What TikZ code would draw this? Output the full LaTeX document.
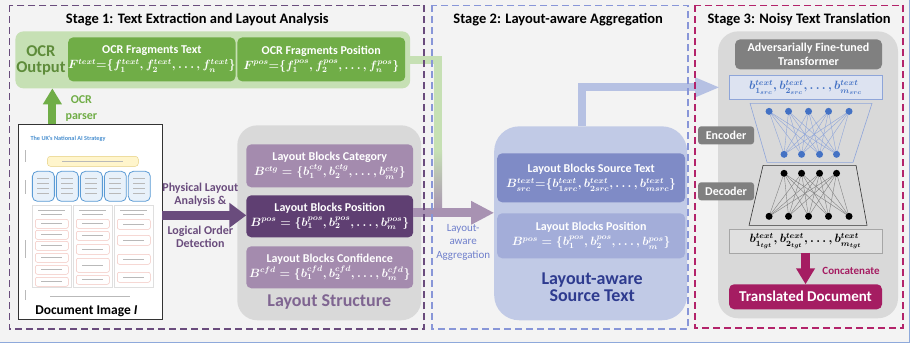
\documentclass[tikz,border=0pt]{standalone}
\usepackage{fontspec}
\setmainfont{Carlito}
\usepackage{amsmath}
\usetikzlibrary{arrows.meta}

\definecolor{bggray}{HTML}{F3F3F3}
\definecolor{frameblue}{HTML}{8EA9DB}
\definecolor{stageone}{HTML}{6A4C7D}
\definecolor{stagetwo}{HTML}{8896D8}
\definecolor{stagethree}{HTML}{B3236A}
\definecolor{ocrlight}{HTML}{C6E0B4}
\definecolor{ocrdark}{HTML}{70AD47}
\definecolor{ocrtext}{HTML}{5E8C3A}
\definecolor{panelgray}{HTML}{D9D9D9}
\definecolor{mauve}{HTML}{A48BAE}
\definecolor{mauvelight}{HTML}{A892B2}
\definecolor{plum}{HTML}{5F3F72}
\definecolor{lstext}{HTML}{7F6591}
\definecolor{srcpanel}{HTML}{C1CAE6}
\definecolor{srcdark}{HTML}{7F8BC6}
\definecolor{srclight}{HTML}{A3ADD9}
\definecolor{srctext}{HTML}{2E3B8F}
\definecolor{aggtext}{HTML}{7080CC}
\definecolor{bandblue}{HTML}{B6C1E3}
\definecolor{modelgray}{HTML}{808080}
\definecolor{encblue}{HTML}{4472C4}
\definecolor{encline}{HTML}{8EA5D9}
\definecolor{infill}{HTML}{DDE3F1}
\definecolor{outfill}{HTML}{E0E0E0}
\definecolor{berry}{HTML}{A51D62}
\definecolor{docblue}{HTML}{4A90D0}
\definecolor{docyellow}{HTML}{FFF5CC}
\definecolor{docyellowline}{HTML}{E5CF7F}
\definecolor{docbluefill}{HTML}{E8F1FA}
\definecolor{docblueline}{HTML}{5B9BD5}
\definecolor{pinkline}{HTML}{F2C4BE}

\begin{document}
\begin{tikzpicture}[x=1pt,y=-1pt]

  %Styles for picture
  \tikzset
  {
  stagebox/.style={line width=1.6pt, dash pattern=on 7pt off 4pt},
  title/.style={font=\fontsize{14.5}{16}\selectfont\bfseries},
  panel/.style={rounded corners=20pt, inner sep=0pt, outer sep=0pt, fill=panelgray},
  block/.style={rounded corners=5pt, inner sep=0pt, outer sep=0pt, text=white, align=center, font=\fontsize{12}{15}\selectfont\bfseries\boldmath},
  biglabel/.style={align=center, font=\fontsize{18}{17}\selectfont\bfseries},
  smalllabel/.style={align=center, font=\fontsize{12}{13}\selectfont\bfseries},
  band/.style={line width=8pt},
  encnode/.style={circle, inner sep=0pt, outer sep=0pt, minimum width=7pt, fill=encblue},
  decnode/.style={circle, inner sep=0pt, outer sep=0pt, minimum width=7pt, fill=black},
  tagbox/.style={rounded corners=3pt, inner sep=0pt, outer sep=0pt, fill=modelgray, text=white, align=center, font=\fontsize{12}{14}\selectfont\bfseries},
  seqbox/.style={inner sep=0pt, outer sep=0pt, minimum width=153pt, minimum height=24pt, font=\fontsize{12}{14}\selectfont\boldmath},
  docline/.style={draw=gray!55, line width=0.7pt},
  pinkbox/.style={draw=pinkline, fill=white, line width=0.5pt, rounded corners=2pt},
  }

  % Background
  \fill[bggray] (0,0) rectangle (909,342);
  \draw[frameblue, line width=0.8pt] (909,0) -- (909,342) -- (0,342);

  % Stage 1 nodes
  \node[panel, rounded corners=8pt, fill=ocrlight, minimum width=395pt, minimum height=57pt] (ocr) at (212.5,59.5) {};
  \node[biglabel, text=ocrtext, font=\fontsize{16.5}{16}\selectfont\bfseries] (ocrname) at (40.5,60) {OCR\\Output};
  \node[block, fill=ocrdark, minimum width=161pt, minimum height=44pt] (ftext) at (151.5,59) {OCR Fragments Text\\$F^{text}{=}\{f_1^{text},f_2^{text},\dots,f_n^{text}\}$};
  \node[block, fill=ocrdark, minimum width=168pt, minimum height=44pt] (fpos) at (321,59) {OCR Fragments Position\\$F^{pos}{=}\{f_1^{pos},f_2^{pos},\dots,f_n^{pos}\}$};

  \node[draw=black!80, fill=white, line width=0.6pt, minimum width=144pt, minimum height=195pt, inner sep=0pt] (doc) at (90,221.5) {};
  \node[font=\fontsize{6.2}{7}\selectfont\bfseries, text=docblue, anchor=west, inner sep=0pt] (doctitle) at (30,138) {The UK's National AI Strategy};
  \node[font=\fontsize{13.5}{16}\selectfont\bfseries] (docname) at (86,311) {Document Image \textit{I}};

  % Document mock-up
  \draw[draw=docyellowline, fill=docyellow, rounded corners=3pt] (47,156) rectangle (138,166);
  \draw[docline] (62,161) -- (123,161);
  \foreach \x in {32,56,80,104,128}
  {
    \draw[draw=docblueline, fill=docbluefill, line width=0.8pt, rounded corners=5pt] (\x,171) rectangle ++(22,30);
    \foreach \y in {178,183,188,193} \draw[docline] (\x+5,\y) -- ++(12,0);
  }
  \foreach \x in {32,73,114}
  {
    \draw[draw=gray!25, line width=0.5pt] (\x,205) rectangle ++(39,82);
    \draw[docline] (\x+6,210) -- ++(27,0);
    \draw[docline] (\x+9,214) -- ++(21,0);
  }
  \foreach \y in {219,230,241,253,265,277}
  {
    \draw[pinkbox] (35,\y) rectangle ++(33,9);
    \draw[docline] (41,\y+4.5) -- ++(21,0);
  }
  \foreach \y/\h in {219/9,231/9,244/10,258/14,275/9}
  {
    \draw[pinkbox] (76,\y) rectangle ++(33,\h);
    \draw[docline] (82,\y+\h/2) -- ++(21,0);
  }
  \foreach \y in {219,235,254,272}
  {
    \draw[pinkbox] (117,\y) rectangle ++(33,10);
    \draw[docline] (123,\y+5) -- ++(21,0);
  }
  \draw[docline] (50,296) -- (130,296);
  \foreach \y/\l in {150/12,180/14,240/18,290/10} \draw[docline] (25,\y) -- ++(0,\l);

  \node[panel, minimum width=184pt, minimum height=195pt] (lstruct) at (329,222.5) {};
  \node[block, fill=mauve, minimum width=167pt, minimum height=43pt] (lctg) at (329.5,165.5) {Layout Blocks Category\\$B^{ctg}=\{b_1^{ctg},b_2^{ctg},\dots,b_m^{ctg}\}$};
  \node[block, fill=plum, minimum width=167pt, minimum height=42pt] (lpos) at (329.5,216) {Layout Blocks Position\\$B^{pos}=\{b_1^{pos},b_2^{pos},\dots,b_m^{pos}\}$};
  \node[block, fill=mauve, minimum width=167pt, minimum height=42pt] (lcfd) at (329.5,267) {Layout Blocks Confidence\\$B^{cfd}=\{b_1^{cfd},b_2^{cfd},\dots,b_m^{cfd}\}$};
  \node[biglabel, text=lstext] (lsname) at (329,302) {Layout Structure};

  \node[smalllabel, text=ocrdark, font=\fontsize{12}{15.5}\selectfont\bfseries] (parserlbl) at (81,108) {OCR\\parser};
  \node[smalllabel, text=stageone] (physlbl) at (200,194) {Physical Layout\\Analysis \&};
  \node[smalllabel, text=stageone] (logiclbl) at (200,237) {Logical Order\\Detection};

  % Stage 2 nodes
  \node[panel, rounded corners=25pt, fill=srcpanel, minimum width=193pt, minimum height=194pt] (src) at (590.5,223) {};
  \node[block, fill=srcdark, minimum width=188pt, minimum height=49pt] (stext) at (591,177.5) {Layout Blocks Source Text\\$B_{src}^{text}{=}\{b_{1src}^{text},b_{2src}^{text},\dots,b_{msrc}^{text}\}$};
  \node[block, fill=srclight, minimum width=188pt, minimum height=45pt] (spos) at (591,235.5) {Layout Blocks Position\\$B^{pos}=\{b_1^{pos},b_2^{pos},\dots,b_m^{pos}\}$};
  \node[biglabel, text=srctext] (srcname) at (592,287) {Layout-aware\\Source Text};
  \node[align=center, text=aggtext, font=\fontsize{11}{13.5}\selectfont] (agglbl) at (463,242) {Layout-\\aware\\Aggregation};

  % Stage 3 nodes
  \node[panel, minimum width=180pt, minimum height=287pt] (nmt) at (808,174.5) {};
  \node[tagbox, rounded corners=5pt, minimum width=147pt, minimum height=30pt, font=\fontsize{12}{14}\selectfont\bfseries] (model) at (808.5,54) {Adversarially Fine-tuned\\Transformer};
  \node[seqbox, draw=encline, fill=infill, text=encblue] (inbox) at (805.5,87) {$b_{1_{src}}^{text},b_{2_{src}}^{text},\dots,b_{m_{src}}^{text}$};
  \node[seqbox, draw=gray!70, fill=outfill, text=black] (outbox) at (805.5,240.5) {$b_{1_{tgt}}^{text},b_{2_{tgt}}^{text},\dots,b_{m_{tgt}}^{text}$};
  \node[tagbox, minimum width=56pt, minimum height=18pt] (enc) at (726,135) {Encoder};
  \node[tagbox, minimum width=56pt, minimum height=18pt] (dec) at (726,191) {Decoder};
  \node[block, fill=berry, minimum width=153pt, minimum height=25pt, font=\fontsize{15}{17}\selectfont\bfseries] (trans) at (805.5,296.5) {Translated Document};
  \node[text=berry, font=\fontsize{11}{13}\selectfont\bfseries] (concatlbl) at (851,271) {Concatenate};

  \draw[encline, line width=0.6pt] (750,103) -- (872,103) -- (853,162) -- (767,162) -- cycle;
  \draw[black!80, line width=0.6pt] (763,165) -- (856,165) -- (867,225) -- (749,225) -- cycle;
  \foreach \x [count=\i] in {769,788.5,808.5,828.5,849} \node[encnode] (et\i) at (\x,111) {};
  \foreach \x [count=\i] in {784,801.5,819.5,836.5} \node[encnode] (eb\i) at (\x,154) {};
  \foreach \x [count=\i] in {784,801.5,819.5,836.5} \node[decnode] (dt\i) at (\x,173) {};
  \foreach \x [count=\i] in {769,788.5,808.5,828.5,849} \node[decnode] (db\i) at (\x,216) {};

  % Edges
  \foreach \i in {1,...,5}
    \foreach \j in {1,...,4}
    {
      \draw[encline, line width=0.4pt] (et\i) -- (eb\j);
      \draw[gray, line width=0.4pt] (db\i) -- (dt\j);
    }

  \coordinate (parserfoot) at (52,124);
  \draw[band, ocrdark, -{Triangle[length=16pt,width=18pt]}] (parserfoot) -- (parserfoot |- ocr.south);

  \coordinate (physfoot) at (162,215);
  \draw[band, line width=9pt, stageone, -{Triangle[length=17pt,width=24pt]}] (physfoot) -- (physfoot -| lpos.west);

  \coordinate (aggjoin) at (438,212.5);
  \draw[band, ocrlight] (ocr.east) -| (aggjoin);
  \shade[top color=ocrlight, bottom color=mauvelight] (434,150) rectangle (442,212);
  \draw[band, line width=9pt, mauvelight, -{Triangle[length=23pt,width=22pt]}] (lpos.east |- aggjoin) -- (aggjoin -| src.west);

  \coordinate (srcout) at (582,126);
  \draw[band, bandblue, shorten >=9pt, -{Triangle[length=25pt,width=18pt]}] (srcout) |- (inbox.west);

  \draw[band, line width=9pt, berry, -{Triangle[length=16pt,width=18pt]}] (outbox.south) -- (trans.north);

  % Stages
  \draw[stagebox, stageone] (9,5) rectangle (424,329);
  \draw[stagebox, stagetwo] (432,5) rectangle (688,329);
  \draw[stagebox, stagethree] (695,5) rectangle (903,328);
  \node[title] (s1title) at (197,19) {Stage 1: Text Extraction and Layout Analysis};
  \node[title] (s2title) at (558,19) {Stage 2: Layout-aware Aggregation};
  \node[title] (s3title) at (799,19) {Stage 3: Noisy Text Translation};

  \useasboundingbox (0,0) rectangle (911,345);
\end{tikzpicture}
\end{document}
